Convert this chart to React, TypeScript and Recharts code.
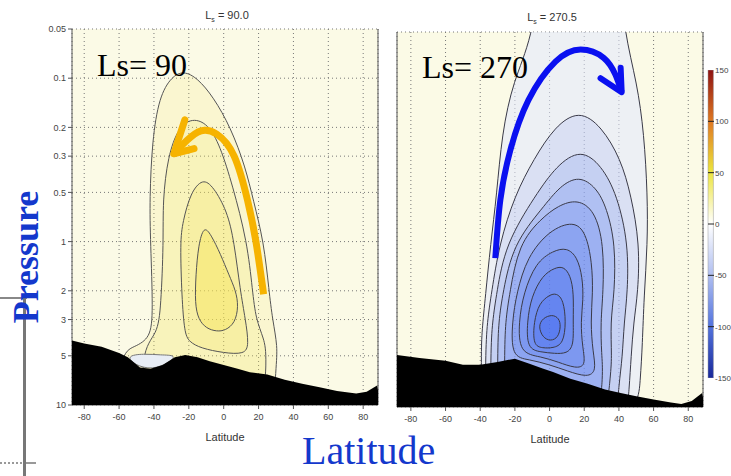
import React from "react";
import { ComposedChart, Scatter, XAxis, YAxis, CartesianGrid, BarChart, Bar, ReferenceLine } from "recharts";

type Pt = [number, number];

const latTicks = [-80, -60, -40, -20, 0, 20, 40, 60, 80];
const pressureTicks = [0.05, 0.1, 0.2, 0.3, 0.5, 1, 2, 3, 5, 10];
const colorbarTicks = [-150, -100, -50, 0, 50, 100, 150];
const colorbarRange = [{ name: "psi", range: [-150, 150] }];

// Ls = 90 panel, [latitude, pressure]
const surface90: Pt[] = [
  [-88, 4.0], [-80, 4.2], [-70, 4.4], [-60, 4.8], [-55, 5.1], [-48, 5.9], [-42, 6.0], [-35, 5.7],
  [-28, 5.1], [-22, 4.95], [-15, 5.1], [-8, 5.4], [0, 5.7], [8, 6.0], [15, 6.3], [25, 6.5],
  [35, 7.0], [45, 7.4], [55, 7.8], [65, 8.2], [76, 8.5], [82, 8.3], [88, 7.6],
];
const lens90: Pt[] = [[-56, 5.0], [-46, 4.85], [-36, 4.95], [-27, 4.95], [-31, 5.5], [-41, 6.1], [-51, 5.7]];
const c90a: Pt[] = [
  [-60, 14], [-60, 4.8], [-51, 4.4], [-42, 3.9], [-40.5, 2.7], [-42, 1.0], [-42.5, 0.55], [-41, 0.24],
  [-37, 0.13], [-30, 0.098], [-23, 0.09], [-15, 0.1], [-6, 0.13], [4, 0.2], [12.5, 0.35], [17, 0.56],
  [23, 1.0], [26, 2.0], [28, 3.0], [31, 4.4], [30, 5.8], [28, 14],
];
const c90b: Pt[] = [
  [-45, 14], [-48, 4.6], [-38, 3.7], [-36, 2.5], [-34.5, 1.0], [-35, 0.56], [-32, 0.3], [-26, 0.2],
  [-18, 0.175], [-9, 0.19], [-2, 0.26], [5, 0.45], [13.5, 1.0], [16.5, 2.0], [18.5, 3.0], [23, 3.9],
  [25, 5.0], [22, 14],
];
const c90c: Pt[] = [
  [-20, 4.1], [-22.5, 3.6], [-24, 2.2], [-25, 1.0], [-23.5, 0.76], [-19, 0.5], [-12, 0.41], [-6, 0.46],
  [2, 0.65], [6, 1.0], [9.5, 2.0], [12.5, 3.0], [14.5, 4.3], [12, 4.9], [0, 4.8], [-13, 4.5],
];
const c90d: Pt[] = [
  [-11.4, 0.8], [-7.4, 0.9], [-1.7, 1.2], [3, 1.6], [7, 2.0], [8.5, 2.5], [6.5, 3.15], [1, 3.5],
  [-4, 3.55], [-10, 3.4], [-14.5, 3.0], [-16.5, 2.4], [-16, 1.6], [-14.5, 1.05],
];
const orangeShaft: Pt[] = [
  [22.9, 2.1], [18.5, 1.0], [13.7, 0.56], [6, 0.3], [-4, 0.22], [-13, 0.21], [-21, 0.24], [-28.6, 0.29],
];
const orangeHead: Pt[] = [[-22.3, 0.18], [-28.6, 0.29], [-17, 0.27]];

// Ls = 270 panel
const surface270: Pt[] = [
  [-88, 4.8], [-75, 5.0], [-60, 5.2], [-50, 5.5], [-40, 5.5], [-30, 5.3], [-20, 5.05], [-12, 5.4],
  [-4, 5.8], [2, 6.1], [12, 6.7], [22, 7.2], [32, 7.8], [41, 8.2], [50, 8.6], [60, 9.0], [70, 9.4],
  [76, 9.6], [82, 9.2], [88, 8.2],
];
const c270a: Pt[] = [
  [-39, 14], [-39.5, 4.7], [-39, 3.4], [-37, 2.1], [-34, 1.0], [-30.5, 0.5], [-27.5, 0.21], [-21, 0.1],
  [-10, 0.055], [-5, 0.02], [40, 0.02], [43, 0.05], [50.5, 0.103], [54.5, 0.21], [56.5, 0.5], [56.5, 1.0],
  [54.5, 2.1], [53.5, 4.2], [52.5, 6.5], [50, 14],
];
const c270b: Pt[] = [
  [-37, 14], [-37, 4.8], [-36, 3.0], [-33.5, 2.0], [-29, 1.0], [-20, 0.5], [-9, 0.3], [3, 0.19],
  [17, 0.15], [30, 0.19], [41, 0.3], [47, 0.5], [52, 1.0], [51, 2.0], [48.5, 3.0], [47, 5.0], [46, 7.5], [44, 14],
];
const c270c: Pt[] = [
  [-34, 14], [-34, 4.6], [-33, 3.0], [-30.5, 2.0], [-25.5, 1.0], [-8, 0.5], [4, 0.33], [18, 0.26],
  [30, 0.33], [39, 0.5], [45.5, 1.0], [45, 2.0], [43, 3.0], [42, 5.0], [40, 7.2], [38, 14],
];
const c270d: Pt[] = [
  [-30, 14], [-30, 4.6], [-29.4, 3.0], [-27, 2.0], [-21, 1.0], [-4, 0.6], [6, 0.44], [17, 0.38],
  [27, 0.45], [33, 0.6], [38, 1.0], [37.5, 2.0], [35, 3.0], [36, 5.0], [35, 6.6], [32, 14],
];
const c270e: Pt[] = [
  [-26, 14], [-26, 4.8], [-25.5, 3.0], [-23, 2.0], [-17.8, 1.0], [-5, 0.7], [5, 0.58], [16, 0.53],
  [26, 0.62], [31.3, 1.0], [31, 2.0], [29.4, 3.0], [30, 4.8], [31, 6.2], [28, 14],
];
const c270f: Pt[] = [
  [-22, 4.95], [-21.6, 3.0], [-19, 2.0], [-13, 1.2], [0, 0.82], [14, 0.72], [21, 0.85], [24.5, 1.3],
  [25, 2.0], [23.6, 3.0], [25, 4.6], [27, 6.0], [22, 6.6], [10, 6.0], [0, 5.5], [-12, 5.1],
];
const c270g: Pt[] = [
  [-17.5, 4.7], [-17.8, 3.0], [-15, 2.0], [-8, 1.3], [2, 1.1], [10, 1.05], [16, 1.2], [19, 1.6],
  [19.5, 2.2], [17.9, 3.0], [19, 4.3], [21, 5.6], [15, 5.8], [5, 5.3], [-5, 4.9],
];
const c270h: Pt[] = [
  [-13, 4.4], [-13, 3.0], [-10.5, 2.1], [-4, 1.55], [3, 1.4], [8, 1.37], [12, 1.55], [14, 2.0],
  [13.5, 3.0], [14, 4.2], [10, 4.7], [3, 4.7], [-5, 4.6],
];
const c270i: Pt[] = [
  [-9.5, 4.2], [-9.1, 3.0], [-6, 2.3], [0, 2.05], [4, 2.0], [8, 2.2], [9.5, 3.0], [8, 4.1], [2, 4.35], [-4, 4.35],
];
const c270j: Pt[] = [[-6.5, 3.2], [-4, 2.85], [1.5, 2.7], [5.5, 2.85], [6.5, 3.2], [5, 3.75], [0.6, 3.95], [-4, 3.75]];
const blueShaft: Pt[] = [
  [-31.3, 1.22], [-28.4, 0.537], [-22.6, 0.265], [-12.2, 0.131], [3.4, 0.076], [17.9, 0.064],
  [31.2, 0.072], [38.1, 0.092], [41.6, 0.117],
];
const blueHead: Pt[] = [[29.4, 0.096], [41.6, 0.117], [41, 0.083]];

const contours90 = [c90a, c90b, c90c, c90d];
const contours270 = [c270a, c270b, c270c, c270d, c270e, c270f, c270g, c270h, c270i, c270j];

const fills90 = [0.14, 0.16, 0.22, 0.35].map((a) => `rgba(245,228,80,${a})`);
const fills270 = [
  "rgba(225,231,255,0.55)",
  ...[0.11, 0.13, 0.15, 0.16, 0.17, 0.18, 0.19, 0.2, 0.22].map((a) => `rgba(60,100,240,${a})`),
];

const pts = (a: Pt[]) => a.map(([lat, p]) => ({ lat, p }));
const closeGround = (a: Pt[]): Pt[] => [...a, [95, 20], [-95, 20]];
const noDot = () => <g />;

const narrow = "'Liberation Sans Narrow', 'Liberation Sans', Arial, sans-serif";
const tickStyle = { fontSize: 9, fill: "#444", fontFamily: narrow };
const axisColor = "#555";

type PanelProps = {
  width: number;
  margin: { top: number; right: number; bottom: number; left: number };
  xDomain: [number, number];
  yWidth: number;
  showYLabels: boolean;
  contours: Pt[][];
  fills: string[];
  strokeColor: string;
  surface: Pt[];
  lens?: Pt[];
  shaft: Pt[];
  head: Pt[];
  arrowColor: string;
  arrowWidth: number;
};

function Panel(props: PanelProps) {
  const { width, margin, xDomain, yWidth, showYLabels, contours, fills, strokeColor, surface, lens, shaft, head, arrowColor, arrowWidth } = props;
  return (
    <ComposedChart width={width} height={445} margin={margin}>
      <CartesianGrid fill="#fbfae6" fillOpacity={1} stroke="#777" strokeDasharray="1 3" />
      <XAxis
        dataKey="lat"
        type="number"
        domain={xDomain}
        ticks={latTicks}
        allowDataOverflow
        height={36}
        tickSize={4}
        tickMargin={5}
        stroke={axisColor}
        tick={tickStyle}
        label={{ value: "Latitude", position: "insideBottom", offset: 0, fontSize: 11, fill: "#333", fontFamily: narrow }}
      />
      <XAxis xAxisId="t" orientation="top" type="number" domain={xDomain} ticks={latTicks} allowDataOverflow height={0} tickSize={4} tick={false} stroke={axisColor} />
      <YAxis
        dataKey="p"
        type="number"
        scale="log"
        domain={[0.05, 10]}
        reversed
        ticks={pressureTicks}
        allowDataOverflow
        width={yWidth}
        tickSize={4}
        tickMargin={2}
        stroke={axisColor}
        tick={showYLabels ? tickStyle : false}
        tickFormatter={(v: number) => String(v)}
      />
      <YAxis yAxisId="r" orientation="right" type="number" scale="log" domain={[0.05, 10]} reversed ticks={pressureTicks} allowDataOverflow width={4} tickSize={4} tick={false} stroke={axisColor} />
      {contours.map((c, i) => (
        <Scatter
          key={i}
          data={pts(c)}
          shape={noDot}
          line={{ stroke: strokeColor, strokeWidth: 1, fill: fills[i] }}
          lineJointType="basisClosed"
          isAnimationActive={false}
        />
      ))}
      {lens && (
        <Scatter data={pts(lens)} shape={noDot} line={{ stroke: "#777", strokeWidth: 1, fill: "#e8edf5" }} lineJointType="basisClosed" isAnimationActive={false} />
      )}
      <Scatter data={pts(closeGround(surface))} shape={noDot} line={{ stroke: "none", fill: "#000" }} lineJointType="linear" isAnimationActive={false} />
      <Scatter data={pts(shaft)} shape={noDot} line={{ stroke: arrowColor, strokeWidth: arrowWidth, fill: "none" }} lineJointType="natural" isAnimationActive={false} />
      <Scatter data={pts(head)} shape={noDot} line={{ stroke: arrowColor, strokeWidth: arrowWidth, fill: "none", strokeLinejoin: "round", strokeLinecap: "round" }} lineJointType="linear" isAnimationActive={false} />
    </ComposedChart>
  );
}

function Colorbar() {
  return (
    <BarChart width={60} height={330} data={colorbarRange} margin={{ top: 10, right: 0, bottom: 12, left: 8 }} barCategoryGap={0}>
      <defs>
        <linearGradient id="cbGrad" x1="0" y1="0" x2="0" y2="1">
          <stop offset="0" stopColor="#8e1212" />
          <stop offset="0.17" stopColor="#e07a22" />
          <stop offset="0.33" stopColor="#ece43c" />
          <stop offset="0.5" stopColor="#ffffff" />
          <stop offset="0.67" stopColor="#aebdf0" />
          <stop offset="0.83" stopColor="#5474de" />
          <stop offset="1" stopColor="#18289a" />
        </linearGradient>
      </defs>
      <XAxis dataKey="name" hide />
      <YAxis
        orientation="right"
        type="number"
        domain={[-150, 150]}
        ticks={colorbarTicks}
        allowDataOverflow
        width={46}
        axisLine={false}
        tickLine={false}
        tickSize={0}
        tickMargin={1}
        tick={{ ...tickStyle, fontSize: 8 }}
      />
      <Bar dataKey="range" barSize={6} fill="url(#cbGrad)" stroke="#999" strokeWidth={0.5} isAnimationActive={false} />
      {colorbarTicks.slice(1, -1).map((t) => (
        <ReferenceLine key={t} y={t} stroke="#222" strokeWidth={1} />
      ))}
    </BarChart>
  );
}

const abs = (left: number, top: number): React.CSSProperties => ({ position: "absolute", left, top });

export default function App() {
  const serif = "'Liberation Serif', 'Times New Roman', serif";
  const blue = "#1438cc";
  return (
    <div style={{ position: "absolute", left: 0, top: 0, width: 731, height: 476, overflow: "hidden", background: "#fff", fontFamily: serif }}>
      {/* slide leftovers */}
      <div style={{ ...abs(0, 297), width: 27, height: 2, background: "#888" }} />
      <div style={{ ...abs(23, 298), width: 3, height: 178, background: "#777" }} />
      <div style={{ ...abs(0, 462), width: 22, height: 0, borderTop: "2px dotted #999" }} />
      <div style={{ ...abs(26, 462), width: 10, height: 2, background: "#999" }} />

      <div style={abs(0, 0)}>
        <Panel
          width={400}
          margin={{ top: 29, right: 18, bottom: 4, left: 38 }}
          xDomain={[-87, 88.5]}
          yWidth={34}
          showYLabels
          contours={contours90}
          fills={fills90}
          strokeColor="#555"
          surface={surface90}
          lens={lens90}
          shaft={orangeShaft}
          head={orangeHead}
          arrowColor="#f6b300"
          arrowWidth={7}
        />
      </div>
      <div style={abs(380, 0)}>
        <Panel
          width={340}
          margin={{ top: 32, right: 13, bottom: 2, left: 13 }}
          xDomain={[-88, 88.5]}
          yWidth={4}
          showYLabels={false}
          contours={contours270}
          fills={fills270}
          strokeColor="#3a3a48"
          surface={surface270}
          shaft={blueShaft}
          head={blueHead}
          arrowColor="#0a10f0"
          arrowWidth={6}
        />
      </div>
      <div style={abs(700, 60)}>
        <Colorbar />
      </div>

      <div style={{ ...abs(187, 9), width: 80, textAlign: "center", fontSize: 11, color: "#333", fontFamily: narrow }}>
        L<sub style={{ fontSize: 7 }}>s</sub> = 90.0
      </div>
      <div style={{ ...abs(512, 11), width: 80, textAlign: "center", fontSize: 11, color: "#333", fontFamily: narrow }}>
        L<sub style={{ fontSize: 7 }}>s</sub> = 270.5
      </div>

      <div style={{ ...abs(97, 49), fontSize: 32, lineHeight: "32px", color: "#000", whiteSpace: "nowrap" }}>Ls= 90</div>
      <div style={{ ...abs(422, 51), fontSize: 32, lineHeight: "32px", color: "#000", whiteSpace: "nowrap" }}>Ls= 270</div>

      <div
        style={{
          ...abs(-54, 237),
          width: 160,
          height: 40,
          lineHeight: "40px",
          textAlign: "center",
          fontSize: 36,
          fontWeight: "bold",
          color: blue,
          transform: "rotate(-90deg)",
        }}
      >
        Pressure
      </div>
      <div style={{ ...abs(302, 431), fontSize: 40, lineHeight: "40px", color: blue, whiteSpace: "nowrap" }}>Latitude</div>
    </div>
  );
}
